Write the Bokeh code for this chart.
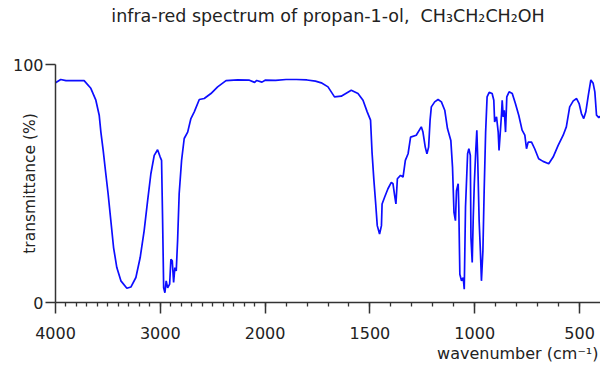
import numpy as np
from bokeh.plotting import figure
from bokeh.models import Range1d, FixedTicker, CustomJSTickFormatter, Title
from bokeh.embed import file_html
from bokeh.resources import INLINE

# ---- data (wavenumber in cm-1, transmittance in %) ----
wavenumber = [
    4000, 3950, 3900, 3727, 3663, 3615, 3583, 3567, 3545, 3520,
    3498, 3472, 3446, 3415, 3376, 3319, 3281, 3233, 3192, 3154,
    3121, 3090, 3058, 3026, 3001, 2988, 2978, 2968, 2956, 2944,
    2930, 2911, 2899, 2886, 2873, 2861, 2848, 2835, 2820, 2797,
    2772, 2739, 2708, 2676, 2628, 2581, 2517, 2453, 2373, 2262,
    2150, 2100, 2080, 2030, 2000, 1950, 1900, 1850, 1800, 1760,
    1732, 1700, 1669, 1637, 1589, 1557, 1533, 1513, 1497, 1490,
    1481, 1473, 1465, 1454, 1445, 1442, 1430, 1414, 1398, 1390,
    1382, 1376, 1369, 1354, 1342, 1331, 1318, 1306, 1279, 1255,
    1247, 1236, 1228, 1220, 1213, 1207, 1191, 1175, 1159, 1143,
    1130, 1114, 1106, 1099, 1092, 1087, 1079, 1076, 1071, 1063,
    1055, 1050, 1044, 1034, 1028, 1021, 1018, 1012, 1007, 1002,
    995, 990, 986, 979, 973, 968, 961, 955, 948, 941,
    931, 917, 909, 905, 896, 888, 884, 879, 872, 869,
    864, 859, 853, 847, 836, 821, 806, 790, 774, 761,
    753, 745, 729, 714, 695, 674, 647, 626, 602, 578,
    563, 547, 530, 514, 502, 491, 480, 470, 458, 446,
    435, 427, 419, 408, 400,
]
transmittance = [
    92.3, 93.7, 93.2, 93.2, 90.0, 85.0, 78.7, 71.6, 63.9, 54.1,
    45.7, 34.4, 23.1, 14.7, 9.1, 6.0, 6.5, 10.5, 18.9, 30.2,
    42.8, 54.1, 61.8, 64.2, 61.1, 59.7, 34.4, 6.2, 4.1, 9.1,
    6.2, 7.7, 18.2, 17.5, 8.4, 14.7, 13.3, 26.0, 45.7, 59.7,
    68.9, 71.6, 77.3, 80.1, 85.3, 85.7, 87.8, 90.6, 93.2, 93.5,
    93.4, 92.5, 93.3, 92.6, 93.4, 93.3, 93.7, 93.7, 93.5, 93.0,
    92.3, 90.6, 86.4, 86.7, 89.2, 87.8, 85.0, 80.1, 76.6, 63.2,
    51.3, 42.1, 32.3, 28.8, 32.3, 41.4, 44.2, 47.8, 50.5, 49.9,
    44.9, 41.4, 52.0, 53.4, 52.7, 59.7, 62.5, 69.5, 70.3, 73.8,
    71.6, 65.3, 62.5, 65.3, 76.6, 82.2, 84.3, 85.3, 84.3, 80.8,
    73.1, 68.1, 56.9, 37.9, 34.4, 47.0, 49.9, 40.0, 11.9, 9.1,
    10.5, 5.6, 40.0, 62.5, 64.6, 61.8, 27.3, 16.8, 35.8, 49.9,
    63.9, 72.4, 61.1, 34.4, 21.7, 9.1, 21.7, 47.0, 71.6, 86.4,
    88.3, 87.8, 85.0, 75.9, 78.0, 71.6, 63.9, 70.3, 79.4, 85.0,
    78.0, 80.8, 71.6, 86.4, 88.5, 87.8, 83.6, 78.7, 72.4, 70.3,
    64.6, 67.4, 67.4, 64.6, 60.4, 59.3, 58.3, 61.1, 66.0, 70.3,
    73.8, 82.2, 84.7, 85.7, 83.6, 79.4, 77.3, 80.1, 87.1, 93.5,
    92.1, 88.5, 78.7, 77.7, 78.3,
]
major_ticks = [4000, 3000, 2000, 1500, 1000, 500]
minor_ticks = list(range(3900, 400, -100))
y_ticks = [0, 100]
title_text = "infra-red spectrum of propan-1-ol,\u00a0 CH\u2083CH\u2082CH\u2082OH"
x_label = "wavenumber (cm\u207b\u00b9)"
y_label = "transmittance (%)"

assert len(wavenumber) == len(transmittance)


# the axis scale is halved above 2000 cm-1 (as on the original spectrum)
def to_axis(w):
    w = np.asarray(w, dtype=float)
    return np.where(w > 2000, 2000 + (w - 2000) / 2.0, w)


FONT = "DejaVu Sans"
TXT = "#222222"

p = figure(
    width=600, height=369,
    output_backend="svg", toolbar_location=None,
    x_range=Range1d(to_axis(4000).item(), 400),
    y_range=Range1d(0, 100),
    min_border_left=55, min_border_right=0,
    min_border_top=64, min_border_bottom=67,
)
p.outline_line_color = None
p.grid.visible = False
p.background_fill_color = "white"
p.border_fill_color = "white"

p.line(to_axis(wavenumber), transmittance, line_color="#0d0dff", line_width=1.7)

# no built-in title; a spacer title next to the frame, then the real title above it
p.title.text = ""
p.title.standoff = 0
try:
    p.title_location = None
except Exception:
    pass
p.add_layout(Title(text="\u00a0", text_font_size="1px", standoff=36), "above")
p.add_layout(Title(text=title_text, align="center", text_font=FONT,
                   text_font_size="17.5px", text_font_style="normal",
                   text_color=TXT, standoff=0), "above")

# x axis
xa = p.xaxis[0]
xa.ticker = FixedTicker(ticks=list(to_axis(major_ticks)), minor_ticks=list(to_axis(minor_ticks)))
xa.formatter = CustomJSTickFormatter(
    code="var w = tick > 2000 ? 2000 + (tick - 2000) * 2 : tick; return Math.round(w).toString();")
xa.major_tick_in = 0
xa.major_tick_out = 11
xa.minor_tick_in = 0
xa.minor_tick_out = 4
xa.major_label_standoff = 13

# x-axis caption, right-aligned under the axis
p.add_layout(Title(text=x_label, align="right", offset=2, text_font=FONT,
                   text_font_size="16px", text_font_style="normal",
                   text_color=TXT, standoff=0), "below")

ya = p.yaxis[0]
ya.ticker = FixedTicker(ticks=y_ticks, minor_ticks=[])
ya.major_tick_in = 0
ya.major_tick_out = 10
ya.major_label_standoff = 2
ya.axis_label = y_label
ya.axis_label_standoff = -29

for ax in (xa, ya):
    ax.axis_line_color = "#333333"
    ax.axis_line_width = 1.5
    ax.major_tick_line_color = "#333333"
    ax.major_tick_line_width = 1.5
    ax.minor_tick_line_color = "#333333"
    ax.minor_tick_line_width = 1.3
    ax.major_label_text_font = FONT
    ax.major_label_text_font_size = "16px"
    ax.major_label_text_color = TXT
    ax.axis_label_text_font = FONT
    ax.axis_label_text_font_style = "normal"
    ax.axis_label_text_color = TXT
ya.axis_label_text_font_size = "15.5px"

open("out.html", "w").write(file_html(p, INLINE))
